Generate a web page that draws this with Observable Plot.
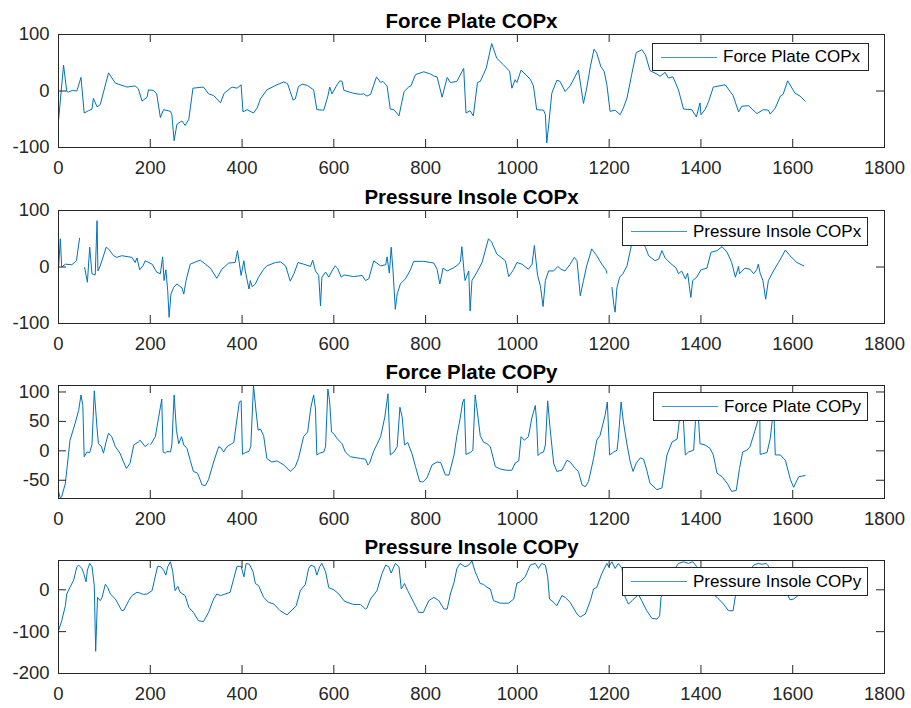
<!DOCTYPE html>
<html>
<head>
<meta charset="utf-8">
<script src="https://cdn.jsdelivr.net/npm/d3@7"></script>
<script src="https://cdn.jsdelivr.net/npm/@observablehq/plot@0.6"></script>
<style>
  html, body { margin: 0; padding: 0; background: #fff; }
  #fig { position: relative; width: 911px; height: 708px; overflow: hidden; font-family: "Liberation Sans", Arial, Helvetica, sans-serif; }
  #fig svg { position: absolute; left: 0; overflow: visible; }
  .legend { position: absolute; box-sizing: border-box; border: 1px solid #262626; background: #fff; display: flex; align-items: center; font-size: 17px; color: #000; }
  .legend .swatch { display: inline-block; width: 56px; height: 0; border-top: 1.3px solid #0072BD; opacity: 0.75; margin-left: 8px; margin-right: 6px; }
</style>
</head>
<body>
<div id="fig"></div>
<script>
// ---------------- data ----------------
const titles = ["Force Plate COPx", "Pressure Insole COPx", "Force Plate COPy", "Pressure Insole COPy"];
const xTicks = [0, 200, 400, 600, 800, 1000, 1200, 1400, 1600, 1800];
const yTicks1 = [-100, 0, 100];
const yTicks2 = [-100, 0, 100];
const yTicks3 = [-50, 0, 50, 100];
const yTicks4 = [-200, -100, 0];
const yDomain1 = [-100, 100];
const yDomain2 = [-100, 100];
const yDomain3 = [-81, 111];
const yDomain4 = [-200, 70];

const forcePlateCOPx = [[0,-53],[11,46],[18,-1],[22,-2],[30,1],[40,0],[49,24],[56,-39],[65,-35],[73,-32],[76,-13],[84,-28],[91,-24],[109,32],[124,14],[149,7],[167,9],[174,4],[182,-18],[193,-11],[196,2],[207,1],[214,-5],[222,-47],[229,-33],[244,-36],[247,-42],[252,-88],[258,-59],[269,-53],[276,-61],[284,-50],[293,5],[316,7],[327,-5],[338,-8],[353,-21],[361,-4],[378,7],[389,5],[398,11],[402,-37],[411,-33],[425,-39],[433,-30],[440,-14],[454,2],[476,11],[491,16],[499,13],[505,-1],[511,-16],[516,-14],[523,8],[531,12],[542,10],[556,2],[563,-33],[578,-34],[587,-9],[591,7],[596,-5],[607,11],[613,18],[618,17],[622,1],[643,-4],[658,-6],[665,-5],[672,-9],[680,-6],[693,25],[702,15],[707,17],[716,9],[723,-32],[731,-33],[742,-44],[753,-1],[763,7],[768,9],[778,29],[796,34],[811,30],[819,26],[825,25],[836,-11],[847,24],[854,15],[868,17],[883,40],[888,-39],[897,-35],[904,-44],[913,15],[919,17],[932,40],[944,84],[955,58],[970,46],[983,35],[988,5],[995,20],[999,15],[1008,37],[1028,21],[1035,9],[1042,-33],[1057,-34],[1061,-42],[1064,-92],[1068,-62],[1075,-4],[1086,19],[1093,17],[1104,-1],[1115,9],[1133,37],[1144,-22],[1151,5],[1159,43],[1167,74],[1173,67],[1182,43],[1189,35],[1195,11],[1202,-36],[1213,-34],[1224,-42],[1231,-30],[1239,-12],[1249,29],[1259,68],[1271,73],[1279,64],[1289,36],[1304,30],[1311,26],[1322,33],[1329,23],[1339,25],[1351,2],[1362,-32],[1380,-33],[1390,-46],[1398,-21],[1400,-42],[1409,-33],[1417,-18],[1427,7],[1453,11],[1470,-8],[1482,-37],[1489,-27],[1504,-26],[1522,-40],[1536,-33],[1547,-34],[1551,-41],[1562,-30],[1573,-9],[1579,-6],[1589,18],[1605,-4],[1616,-9],[1627,-18]];

const pressureInsoleCOPx = [[0,-4],[4,50],[7,0],[15,5],[29,4],[39,11],[46,51],[50,NaN],[57,-1],[63,-27],[68,35],[73,-12],[80,-14],[84,82],[86,-7],[91,2],[104,35],[109,32],[120,20],[127,17],[138,20],[160,17],[167,8],[171,16],[177,-5],[184,2],[189,11],[204,5],[214,-9],[222,-12],[227,18],[230,-24],[234,-5],[238,-42],[241,-89],[245,-48],[251,-36],[258,-30],[269,-37],[273,-48],[278,-24],[287,5],[302,10],[309,12],[320,5],[331,-2],[345,-20],[356,-4],[371,7],[385,8],[390,29],[398,-15],[404,11],[407,-7],[415,-39],[418,-24],[422,-35],[429,-30],[436,-18],[447,-4],[454,2],[473,8],[484,9],[495,2],[505,-25],[513,-12],[522,8],[534,5],[549,1],[554,12],[560,-7],[567,-15],[571,-69],[574,-18],[582,-9],[589,-18],[596,-7],[603,2],[608,-2],[616,-18],[622,-14],[643,-17],[662,-15],[669,-24],[676,-21],[687,11],[702,2],[713,4],[716,18],[721,-11],[725,35],[729,-7],[734,-75],[738,-48],[745,-30],[756,-21],[767,-5],[774,10],[796,10],[818,7],[825,-4],[831,-30],[838,-2],[847,-7],[862,-1],[872,5],[876,10],[879,36],[884,-10],[886,-24],[894,-7],[897,-78],[901,-24],[912,-9],[923,8],[937,50],[944,44],[955,23],[974,11],[981,-17],[988,-9],[992,-4],[999,8],[1010,5],[1024,-4],[1032,5],[1037,38],[1044,-15],[1050,-33],[1056,-70],[1061,-24],[1068,-7],[1079,-7],[1088,1],[1095,-4],[1104,-7],[1115,5],[1124,17],[1130,11],[1137,-51],[1144,-24],[1151,2],[1162,32],[1173,20],[1184,5],[1193,-5],[1195,-11],[1200,NaN],[1206,-36],[1210,-66],[1213,-80],[1217,-36],[1223,-18],[1230,-12],[1239,2],[1246,29],[1250,44],[1258,60],[1265,55],[1272,45],[1279,35],[1286,20],[1300,11],[1308,14],[1315,29],[1322,16],[1333,7],[1346,-2],[1351,-12],[1358,-7],[1366,-21],[1371,-11],[1378,-54],[1382,-24],[1391,-18],[1400,-5],[1413,-2],[1422,26],[1435,29],[1446,36],[1457,26],[1467,8],[1475,-18],[1482,1],[1484,-12],[1496,-2],[1507,-4],[1515,-12],[1522,-4],[1525,5],[1529,-11],[1535,-24],[1541,-57],[1547,-24],[1558,-7],[1569,8],[1584,30],[1594,20],[1609,8],[1624,2]];

const forcePlateCOPy = [[0,-69],[4,-80],[7,-78],[15,-55],[25,18],[36,46],[44,69],[49,95],[53,77],[56,-10],[62,-2],[68,-3],[73,11],[78,102],[84,38],[87,12],[93,8],[98,-4],[104,16],[109,30],[116,24],[124,7],[134,-4],[138,-12],[148,-30],[156,-21],[164,10],[174,15],[178,18],[189,7],[196,12],[198,NaN],[201,11],[211,24],[218,56],[225,88],[228,-2],[233,-4],[236,-1],[244,-2],[247,10],[252,95],[257,35],[262,12],[268,24],[273,10],[280,4],[287,-16],[294,-35],[303,-38],[313,-58],[320,-59],[327,-49],[338,-19],[349,7],[354,5],[360,-2],[367,7],[377,12],[382,14],[388,49],[394,83],[398,85],[401,-6],[407,-3],[415,-1],[419,7],[425,111],[430,71],[435,35],[440,37],[447,26],[454,-13],[465,-19],[476,-17],[491,-24],[505,-35],[516,-27],[523,-13],[534,24],[543,32],[550,74],[556,95],[560,71],[563,-7],[569,-4],[578,-2],[582,7],[587,105],[591,83],[595,32],[600,29],[607,21],[618,12],[625,-2],[636,-10],[658,-13],[669,-14],[674,-24],[678,-21],[686,-2],[694,11],[702,24],[711,57],[718,97],[723,-7],[731,-2],[738,7],[744,74],[749,57],[754,10],[761,14],[770,-4],[778,-27],[787,-52],[794,-53],[803,-46],[814,-24],[825,-19],[833,-20],[843,-41],[851,-41],[862,-7],[868,25],[875,54],[881,83],[884,88],[888,-6],[897,-3],[903,1],[908,95],[912,71],[919,26],[926,15],[934,12],[941,7],[952,-27],[963,-31],[977,-33],[988,-33],[995,-21],[1003,-17],[1008,24],[1015,18],[1024,24],[1031,54],[1039,77],[1042,49],[1045,-8],[1050,-4],[1057,-2],[1061,10],[1066,85],[1071,40],[1079,-21],[1086,-35],[1097,-33],[1108,-16],[1115,-19],[1126,-30],[1133,-35],[1141,-58],[1148,-61],[1155,-52],[1166,-13],[1173,18],[1180,26],[1191,60],[1196,83],[1201,-7],[1210,-2],[1217,1],[1220,21],[1226,83],[1231,49],[1239,10],[1246,-19],[1252,-35],[1259,-21],[1268,-12],[1275,-14],[1282,-33],[1289,-55],[1304,-66],[1315,-63],[1326,-7],[1337,15],[1348,20],[1353,52],[1359,95],[1362,49],[1366,-7],[1373,-2],[1384,1],[1388,50],[1391,100],[1395,49],[1398,12],[1409,10],[1420,4],[1427,-7],[1435,-38],[1446,-44],[1457,-55],[1467,-69],[1477,-67],[1484,-30],[1491,-2],[1500,1],[1507,7],[1518,35],[1526,57],[1528,88],[1529,-6],[1544,-3],[1551,21],[1555,49],[1558,92],[1560,40],[1562,-7],[1573,-7],[1584,-16],[1595,-49],[1602,-62],[1613,-44],[1627,-42]];

const pressureInsoleCOPy = [[0,-98],[7,-74],[15,-38],[18,-10],[25,6],[33,23],[40,55],[44,59],[51,51],[55,39],[60,19],[63,47],[68,63],[73,55],[78,10],[81,-147],[85,-18],[91,-26],[95,-18],[102,13],[107,6],[113,-10],[124,-22],[138,-50],[143,-48],[153,-26],[160,-14],[171,-6],[178,-8],[185,-11],[193,-10],[204,-2],[209,23],[216,56],[223,55],[229,47],[234,35],[238,55],[244,67],[249,43],[254,-2],[260,8],[265,-6],[276,-14],[284,-42],[294,-54],[305,-74],[316,-76],[327,-54],[338,-22],[345,-10],[353,-14],[374,-6],[382,27],[389,56],[398,56],[404,31],[409,63],[416,61],[424,43],[429,15],[436,10],[447,-18],[458,-30],[469,-34],[483,-50],[498,-60],[511,-46],[518,-38],[527,-2],[538,13],[545,51],[550,59],[558,55],[563,35],[569,55],[574,63],[582,43],[589,5],[600,0],[611,-10],[622,-26],[629,-30],[643,-35],[658,-35],[669,-46],[672,-44],[680,-22],[694,-2],[705,39],[713,59],[720,55],[725,40],[734,63],[742,55],[747,2],[754,15],[761,-2],[774,-30],[785,-54],[795,-54],[807,-26],[818,-18],[829,-26],[840,-46],[847,-46],[854,-10],[862,18],[868,50],[875,63],[886,55],[894,59],[901,69],[908,43],[919,15],[926,13],[934,6],[941,2],[948,-26],[963,-32],[981,-32],[992,-22],[999,16],[1006,19],[1017,31],[1028,59],[1039,63],[1046,51],[1053,63],[1061,59],[1066,31],[1070,-22],[1079,-30],[1086,-38],[1097,-14],[1104,-18],[1115,-30],[1130,-58],[1137,-65],[1148,-58],[1159,-26],[1166,2],[1173,6],[1184,39],[1195,63],[1199,55],[1206,67],[1213,51],[1220,63],[1228,51],[1235,-18],[1242,-34],[1250,-26],[1257,-18],[1264,-12],[1271,-26],[1282,-50],[1293,-68],[1304,-70],[1310,-62],[1313,-18],[1325,10],[1340,45],[1351,63],[1362,67],[1373,63],[1382,67],[1391,55],[1400,20],[1415,0],[1425,-10],[1435,-18],[1449,-34],[1460,-50],[1470,-50],[1475,-16],[1490,20],[1505,45],[1515,59],[1525,63],[1533,61],[1542,63],[1547,57],[1560,20],[1575,0],[1588,-10],[1594,-24],[1602,-22],[1609,-16],[1620,-5],[1627,0]];

// ---------------- drawing ----------------
const fig = document.getElementById("fig");
const W = 911, ML = 58, MR = 27, MT = 34, MB = 30, PH = 113;
const PW = W - ML - MR;
const axisColor = "#262626";
const fontFamily = '"Liberation Sans", Arial, Helvetica, sans-serif';

const panels = [
  {series: forcePlateCOPx, yDomain: yDomain1, yTicks: yTicks1, top: 0, legend: {left: 652, top: 43, width: 217, height: 28}},
  {series: pressureInsoleCOPx, yDomain: yDomain2, yTicks: yTicks2, top: 176, legend: {left: 622, top: 217, width: 246, height: 29}},
  {series: forcePlateCOPy, yDomain: yDomain3, yTicks: yTicks3, top: 351, legend: {left: 653, top: 392, width: 215, height: 29}},
  {series: pressureInsoleCOPy, yDomain: yDomain4, yTicks: yTicks4, top: 526, legend: {left: 622, top: 567, width: 246, height: 29}}
];

panels.forEach((p, i) => {
  const svg = Plot.plot({
    width: W,
    height: MT + PH + MB,
    marginLeft: ML, marginRight: MR, marginTop: MT, marginBottom: MB,
    style: {fontFamily, fontSize: "18.5px", color: axisColor, background: "transparent", overflow: "visible"},
    x: {domain: [0, 1800]},
    y: {domain: p.yDomain},
    marks: [
      Plot.line(p.series, {x: d => d[0], y: d => d[1], stroke: "#0072BD", strokeWidth: 1, strokeLinejoin: "round"}),
      Plot.frame({stroke: axisColor, strokeWidth: 1}),
      Plot.tickX(xTicks, {x: d => d, insetTop: PH - 8, stroke: axisColor}),
      Plot.tickX(xTicks, {x: d => d, insetBottom: PH - 8, stroke: axisColor}),
      Plot.tickY(p.yTicks, {y: d => d, insetRight: PW - 8, stroke: axisColor}),
      Plot.tickY(p.yTicks, {y: d => d, insetLeft: PW - 8, stroke: axisColor}),
      Plot.axisX({ticks: xTicks, tickSize: 0, tickPadding: 13, tickFormat: d => String(d), label: null}),
      Plot.axisY({ticks: p.yTicks, tickSize: 0, tickPadding: 9, tickFormat: d => String(d), label: null}),
      Plot.text([titles[i]], {frameAnchor: "top", dy: -7, lineAnchor: "bottom", text: d => d, fontWeight: "bold", fontSize: 20.5, fill: "#000"})
    ]
  });
  svg.style.top = p.top + "px";
  fig.appendChild(svg);

  const lg = document.createElement("div");
  lg.className = "legend";
  lg.style.left = p.legend.left + "px";
  lg.style.top = p.legend.top + "px";
  lg.style.width = p.legend.width + "px";
  lg.style.height = p.legend.height + "px";
  const sw = document.createElement("span");
  sw.className = "swatch";
  const tx = document.createElement("span");
  tx.textContent = titles[i];
  lg.appendChild(sw);
  lg.appendChild(tx);
  fig.appendChild(lg);
});
</script>
</body>
</html>
